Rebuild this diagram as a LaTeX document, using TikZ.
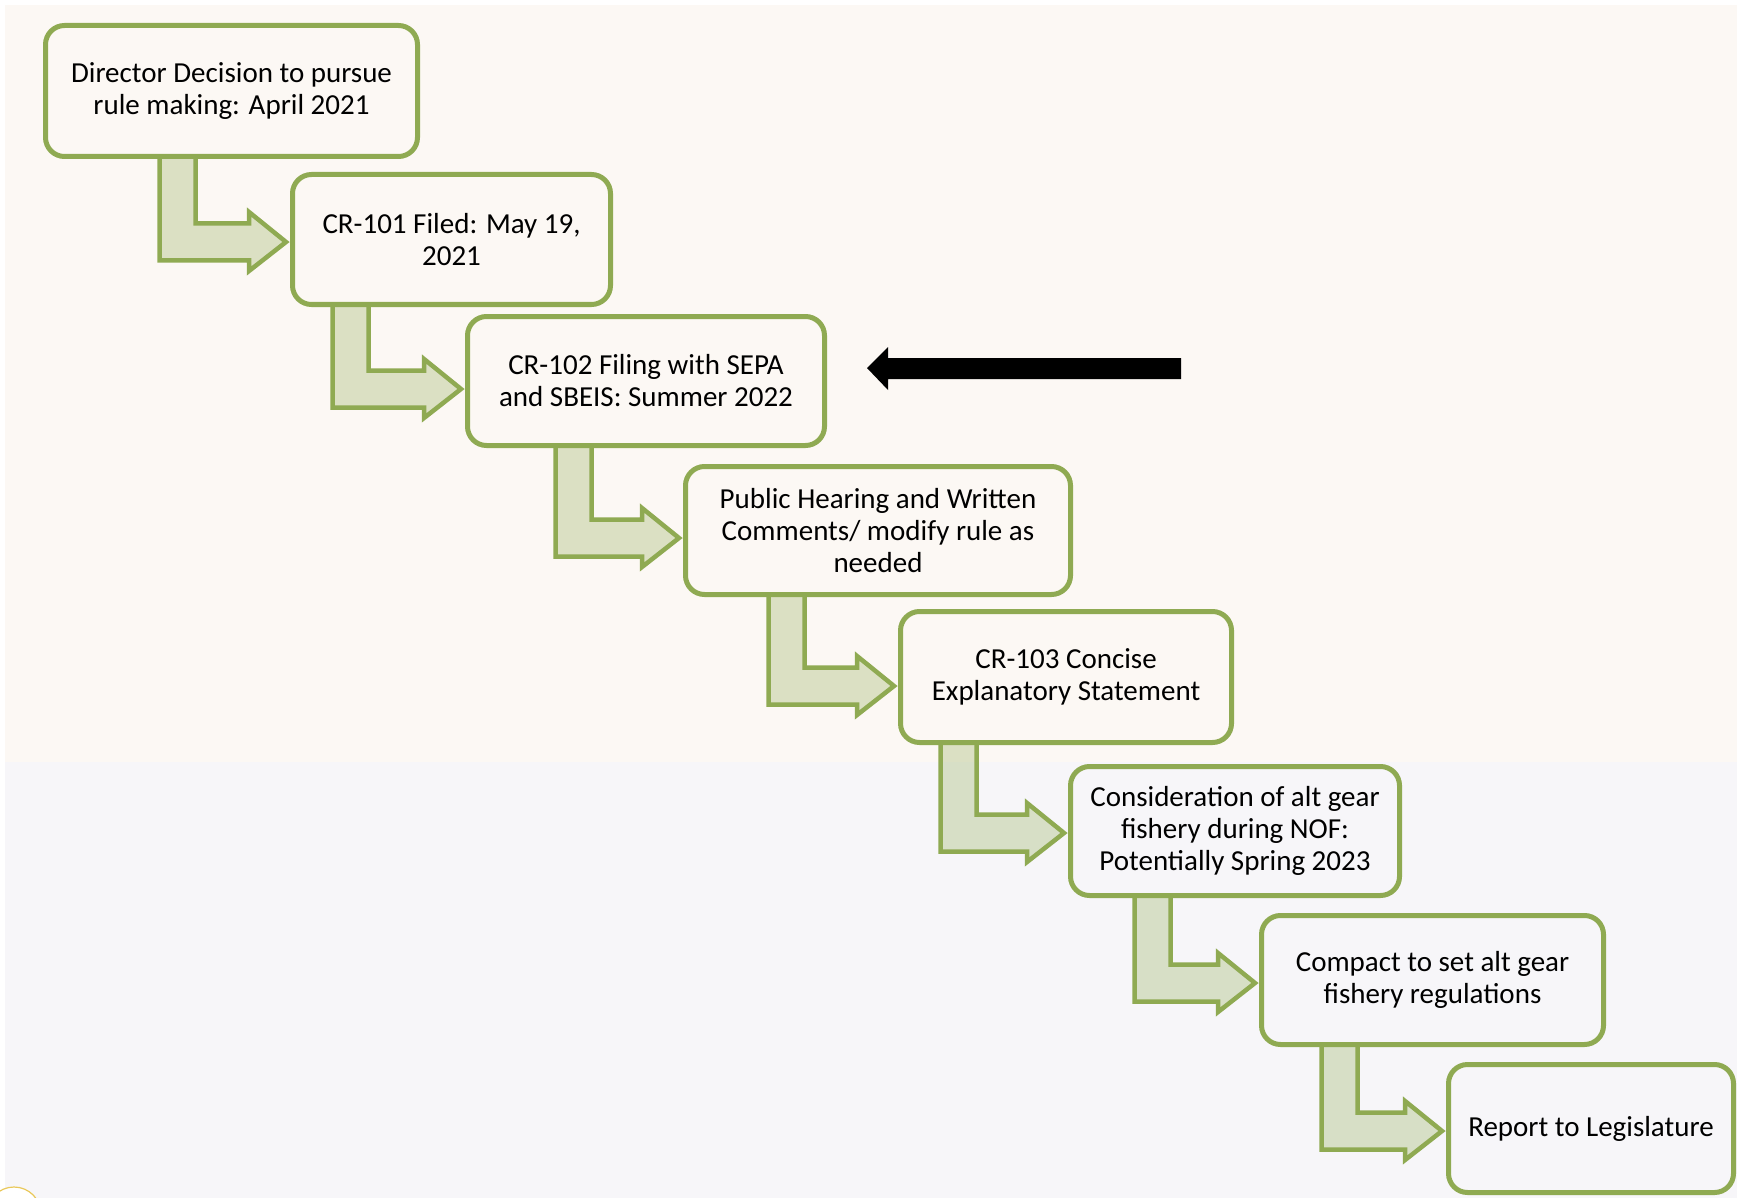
\documentclass[tikz,border=0pt]{standalone}
\usepackage{fontspec}
\setmainfont{Carlito}
\usetikzlibrary{calc}
\definecolor{boxgreen}{HTML}{8FAA52}
\definecolor{topbg}{HTML}{FCF8F4}
\definecolor{botbg}{HTML}{F7F6F9}
\definecolor{ringyellow}{HTML}{E9C85A}
\tikzset{
  stepbox/.style={draw=boxgreen, line width=5pt, rounded corners=19pt, outer sep=0pt, inner sep=0pt,
    align=center, font=\fontsize{29}{32}\selectfont, text=black},
  flowarrow/.style={draw=boxgreen, line width=4.5pt, fill=boxgreen, fill opacity=0.3, line join=miter},
  pointer/.style={fill=black, draw=none},
}
\newcommand\bentarrow[4]{%
  \coordinate (T) at ($(#2.west)+(-6.5,#4)$);
  \coordinate (L) at (#3+2.5,0);
  \coordinate (R) at (#3+38.5,0);
  \coordinate (Su) at ($(T)+(0,-18.5)$);
  \coordinate (Sd) at ($(T)+(0,18.5)$);
  \coordinate (Hu) at ($(T)+(-37,-30)$);
  \coordinate (Hd) at ($(T)+(-37,29)$);
  \draw[flowarrow] (L |- #1.south) -- (R |- #1.south) -- (R |- Su) -- (Hu |- Su) -- (Hu)
    -- (T) -- (Hd) -- (Hu |- Sd) -- (L |- Sd) -- cycle;
}
\begin{document}
\begin{tikzpicture}[x=1pt,y=-1pt]
\useasboundingbox (0,0) rectangle (1737,1198);
% backgrounds
\fill[white] (0,0) rectangle (1737,1198);
\fill[topbg] (5,5) rectangle (1737,762);
\fill[botbg] (5,762) rectangle (1737,1198);
% faint ring at the bottom-left corner
\begin{scope}
  \clip (0,1150) rectangle (60,1198);
  \draw[ringyellow, line width=1.2pt, fill=white] (14,1214) circle (27);
\end{scope}
% boxes
\node[stepbox, minimum width=372, minimum height=131] (b1) at (231.5,91)
  {Director Decision to pursue\\rule making: April 2021};
\node[stepbox, minimum width=318, minimum height=130] (b2) at (451.5,239.5)
  {CR-101 Filed: May 19,\\2021};
\node[stepbox, minimum width=357, minimum height=129] (b3) at (646,381)
  {CR-102 Filing with SEPA\\and SBEIS: Summer 2022};
\node[stepbox, minimum width=385, minimum height=128] (b4) at (878,530.5)
  {Public Hearing and Written\\Comments/ modify rule as\\needed};
\node[stepbox, minimum width=331, minimum height=131] (b5) at (1066,677)
  {CR-103 Concise\\Explanatory Statement};
\node[stepbox, minimum width=329, minimum height=129] (b6) at (1235,831)
  {Consideration of alt gear\\fishery during NOF:\\Potentially Spring 2023};
\node[stepbox, minimum width=342, minimum height=129] (b7) at (1432.5,980)
  {Compact to set alt gear\\fishery regulations};
\node[stepbox, minimum width=285, minimum height=128] (b8) at (1591,1128.5)
  {Report to Legislature};
% bent block arrows
\bentarrow{b1}{b2}{157}{2.5}
\bentarrow{b2}{b3}{330}{8}
\bentarrow{b3}{b4}{553}{7.5}
\bentarrow{b4}{b5}{766}{9}
\bentarrow{b5}{b6}{938}{2}
\bentarrow{b6}{b7}{1132}{3}
\bentarrow{b7}{b8}{1319}{2.5}
% black pointer arrow
\coordinate (ptip) at (867,368);
\coordinate (ptail) at (1181,368);
\fill[pointer] (ptip) -- (888,347) -- (888,358) -- (ptail |- 0,358) -- (ptail |- 0,379)
  -- (888,379) -- (888,390) -- cycle;
\end{tikzpicture}
\end{document}
